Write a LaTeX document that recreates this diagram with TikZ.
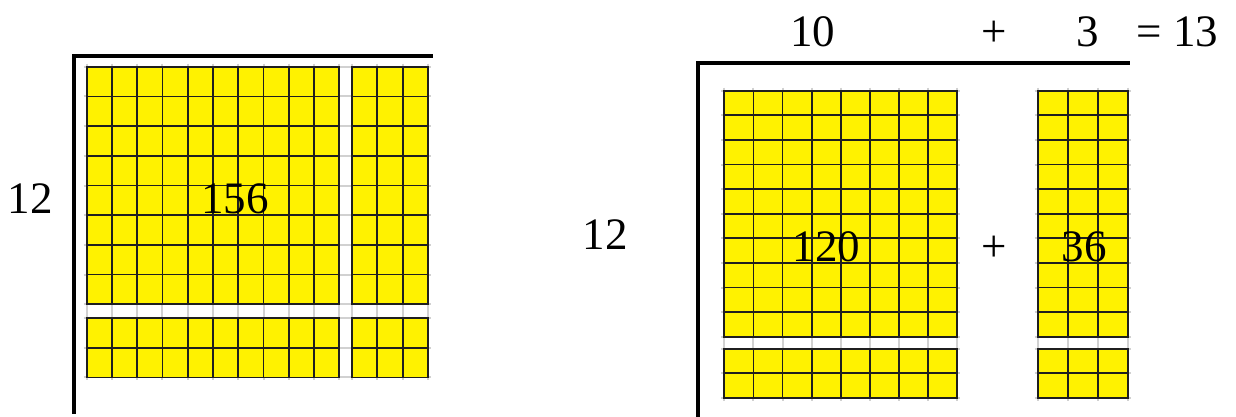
\documentclass[tikz,border=0pt]{standalone}
\usepackage{fontspec}
\setmainfont{Liberation Serif}
\newcommand\yblock[6]{% x0 y0 ncols nrows cw ch
  \fill[yellow] (#1,#2) rectangle ++({#3*#5},{#4*#6});
  \foreach \i in {0,...,#3} \draw[gridline] ({#1+\i*#5},#2) -- ++(0,{#4*#6});
  \foreach \j in {0,...,#4} \draw[gridline] (#1,{#2+\j*#6}) -- ++({#3*#5},0);
  \draw[gridline] (#1,#2) rectangle ++({#3*#5},{#4*#6});
}
\tikzset{
  gridline/.style={line width=1.7pt, black!88},
  faint/.style={line width=2pt, black!18},
  bracket/.style={line width=4pt, black, line join=miter},
  lbl/.style={font=\fontsize{45}{54}\selectfont, inner sep=0pt, anchor=base},
}
\begin{document}
\begin{tikzpicture}[x=1pt,y=-1pt]
\useasboundingbox (0,0) rectangle (1236,417);
% ---------- left diagram ----------
\foreach \i in {0,...,10} \draw[faint] ({86.7+\i*25.26},63.7) -- ++(0,316.6);
\foreach \i in {0,...,3} \draw[faint] ({352+\i*25.33},63.7) -- ++(0,316.6);
\foreach \j in {0,...,8} \draw[faint] (83.7,{66.7+\j*29.7}) -- (431,{66.7+\j*29.7});
\foreach \j in {0,...,2} \draw[faint] (83.7,{318+\j*29.7}) -- (431,{318+\j*29.7});
\yblock{86.7}{66.7}{10}{8}{25.26}{29.7}
\yblock{352}{66.7}{3}{8}{25.33}{29.7}
\yblock{86.7}{318}{10}{2}{25.26}{29.7}
\yblock{352}{318}{3}{2}{25.33}{29.7}
\draw[bracket] (74,414) -- (74,56) -- (433,56);
% ---------- right diagram ----------
\foreach \i in {0,...,8} \draw[faint] ({724.3+\i*29.125},87.7) -- ++(0,313);
\foreach \i in {0,...,3} \draw[faint] ({1037.7+\i*30.1},87.7) -- ++(0,313);
\foreach \j in {0,...,10} {
  \draw[faint] (721.3,{90.7+\j*24.6}) -- (960.3,{90.7+\j*24.6});
  \draw[faint] (1034.7,{90.7+\j*24.6}) -- (1131,{90.7+\j*24.6});
}
\foreach \j in {0,...,2} {
  \draw[faint] (721.3,{348.7+\j*24.5}) -- (960.3,{348.7+\j*24.5});
  \draw[faint] (1034.7,{348.7+\j*24.5}) -- (1131,{348.7+\j*24.5});
}
\yblock{724.3}{90.7}{8}{10}{29.125}{24.6}
\yblock{1037.7}{90.7}{3}{10}{30.1}{24.6}
\yblock{724.3}{348.7}{8}{2}{29.125}{24.5}
\yblock{1037.7}{348.7}{3}{2}{30.1}{24.5}
\draw[bracket] (698,417) -- (698,63.5) -- (1130,63.5);
% ---------- labels ----------
\node[lbl] (l12) at (30,213) {12};
\node[lbl] (l156) at (235,213) {156};
\node[lbl] (r12) at (605,249) {12};
\node[lbl] (r120) at (826.7,261.5) {120};
\node[lbl] (rplus) at (994,261.5) {+};
\node[lbl] (r36) at (1084,261.5) {36};
\node[lbl] (t10) at (812.5,46.5) {10};
\node[lbl] (tplus) at (994,46.5) {+};
\node[lbl] (t3) at (1088,46.5) {3};
\node[lbl] (t13) at (1177.5,46.5) {= 13};
\end{tikzpicture}
\end{document}
